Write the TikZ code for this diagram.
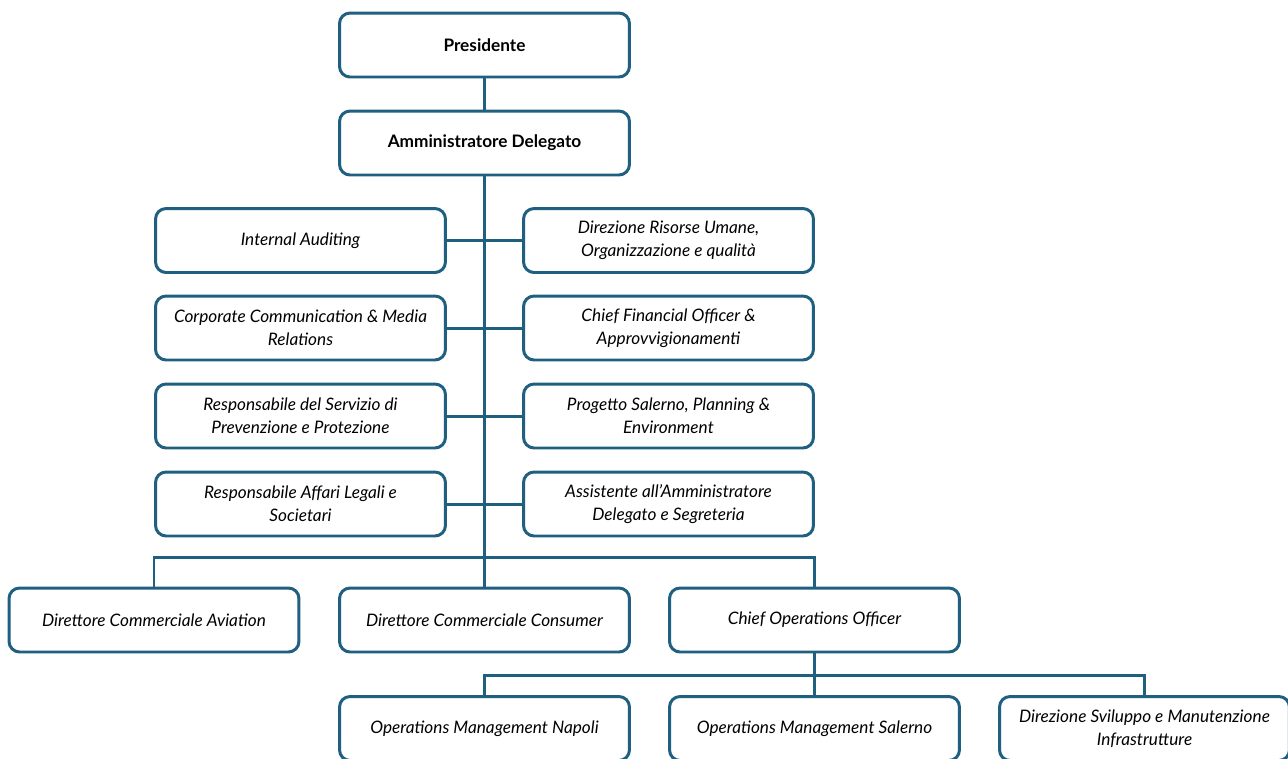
\documentclass[tikz,border=0pt]{standalone}
\usepackage{fontspec}
\setmainfont{Lato}
\definecolor{orgblue}{HTML}{1F5F80}
\begin{document}
\begin{tikzpicture}[x=0.02cm,y=-0.02cm]
	\clip (0,0) rectangle (1288,758);
	\begin{scope}[line width=1.7pt,draw=orgblue]
		\tikzstyle{every node}=[draw=orgblue,fill=white,shape=rectangle,rounded corners=6pt,line width=1.7pt,minimum width=5.8cm,minimum height=1.28cm,align=center,font=\fontsize{9.8}{13}\selectfont\itshape,text=black];
		\tikzstyle{top}=[font=\fontsize{9.8}{13}\selectfont\bfseries];
		\path (484.5, 45) node[top] (pres) {Presidente};
		\path (484.5,143) node[top] (ad)   {Amministratore Delegato};
		\path (300.5,240.5) node (audit) {Internal Auditing};
		\path (668.5,240.5) node (hr)    {Direzione Risorse Umane,\\Organizzazione e qualità};
		\path (300.5,328) node (comm)  {Corporate Communication \& Media\\Relations};
		\path (668.5,328) node (cfo)   {Chief Financial Officer \&\\Approvvigionamenti};
		\path (300.5,416) node (rspp)  {Responsabile del Servizio di\\Prevenzione e Protezione};
		\path (668.5,416) node (plan)  {Progetto Salerno, Planning \&\\Environment};
		\path (300.5,504) node (legal) {Responsabile Affari Legali e\\Societari};
		\path (668.5,504) node (segr)  {Assistente all’Amministratore\\Delegato e Segreteria};
		\path (154,  620) node (avi)   {Direttore Commerciale Aviation};
		\path (484.5,620) node (cons)  {Direttore Commerciale Consumer};
		\path (814.5,620) node (coo)   {Chief Operations Officer};
		\path (484.5,728.5) node (nap)   {Operations Management Napoli};
		\path (814.5,728.5) node (sal)   {Operations Management Salerno};
		\path (1144.5,728.5) node (infra) {Direzione Sviluppo e Manutenzione\\Infrastrutture};
		\coordinate (bus1) at (484.5,557);
		\coordinate (bus2) at (814.5,675);
		\draw (pres) -- (ad);
		\draw (ad) -- (cons);
		\draw (audit) -- (hr);
		\draw (comm) -- (cfo);
		\draw (rspp) -- (plan);
		\draw (legal) -- (segr);
		\draw (avi.north) |- (bus1) -| (coo.north);
		\draw (coo) -- (bus2);
		\draw (nap.north) |- (bus2) -| (infra.north);
		\draw (bus2) -- (sal);
	\end{scope}
\end{tikzpicture}
\end{document}
